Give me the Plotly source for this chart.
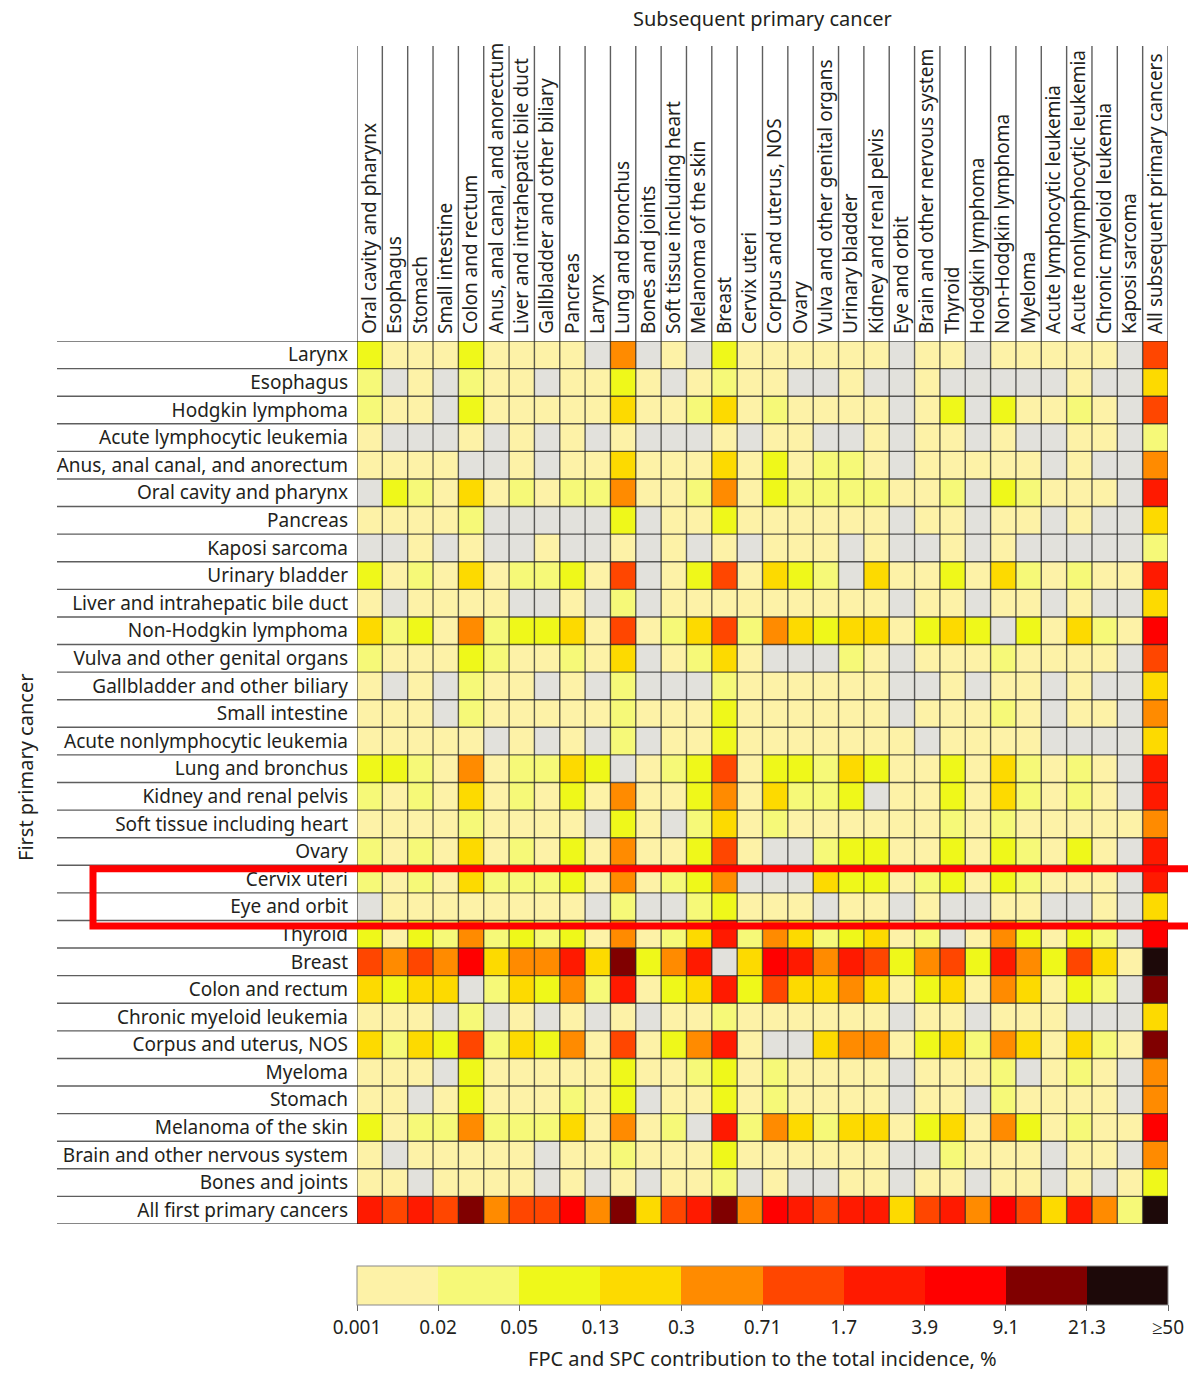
import numpy as np
import plotly.graph_objects as go

# Subsequent primary cancer (columns) and first primary cancer (rows)
subsequent = [
    "Oral cavity and pharynx", "Esophagus", "Stomach", "Small intestine",
    "Colon and rectum", "Anus, anal canal, and anorectum",
    "Liver and intrahepatic bile duct", "Gallbladder and other biliary",
    "Pancreas", "Larynx", "Lung and bronchus", "Bones and joints",
    "Soft tissue including heart", "Melanoma of the skin", "Breast",
    "Cervix uteri", "Corpus and uterus, NOS", "Ovary",
    "Vulva and other genital organs", "Urinary bladder",
    "Kidney and renal pelvis", "Eye and orbit",
    "Brain and other nervous system", "Thyroid", "Hodgkin lymphoma",
    "Non-Hodgkin lymphoma", "Myeloma", "Acute lymphocytic leukemia",
    "Acute nonlymphocytic leukemia", "Chronic myeloid leukemia",
    "Kaposi sarcoma", "All subsequent primary cancers",
]

first_primary = [
    "Larynx", "Esophagus", "Hodgkin lymphoma", "Acute lymphocytic leukemia",
    "Anus, anal canal, and anorectum", "Oral cavity and pharynx", "Pancreas",
    "Kaposi sarcoma", "Urinary bladder", "Liver and intrahepatic bile duct",
    "Non-Hodgkin lymphoma", "Vulva and other genital organs",
    "Gallbladder and other biliary", "Small intestine",
    "Acute nonlymphocytic leukemia", "Lung and bronchus",
    "Kidney and renal pelvis", "Soft tissue including heart", "Ovary",
    "Cervix uteri", "Eye and orbit", "Thyroid", "Breast", "Colon and rectum",
    "Chronic myeloid leukemia", "Corpus and uterus, NOS", "Myeloma",
    "Stomach", "Melanoma of the skin", "Brain and other nervous system",
    "Bones and joints", "All first primary cancers",
]

# Contribution classes, % (edges of the 10 colour classes)
bin_edges = [0.001, 0.02, 0.05, 0.13, 0.3, 0.71, 1.7, 3.9, 9.1, 21.3, 50]
bin_labels = ["0.001", "0.02", "0.05", "0.13", "0.3", "0.71", "1.7", "3.9",
              "9.1", "21.3", "\u226550"]
bin_colors = ["#fdf2a7", "#f6f978", "#eff81a", "#fdda00", "#ff8b00",
              "#ff4600", "#ff1a00", "#ff0000", "#800000", "#1d0909"]
no_data_color = "#e2e1dc"

# Class of each FPC/SPC pair (digit = class index, "." = no cases)
contribution_bins = [
    "200020000.4.0.20 00000.00.00000.5",
    "1.0.100.0020.010 0..0..0.....0..3",
    "100.200000300130 10000.02.20010.5",
    "0...0.0.0.0...0. 00..0.00.0..00.1",
    "0000..0.00300030 20110.00000.0..4",
    ".210301011400140 21111001.21000.6",
    "00001.....2.0020 00000.00.00.0..3",
    "..0.0..0..0.0.0. 000.0..0.0.....1",
    "20103011205.0250 321.300203101006",
    "0.0000..0.1.0000 00000.00.00.0..3",
    "3120412230501351 432330232.203107",
    "10002100103.0130 ...10.00010000.5",
    "0.0.100.0.1...10 00000..0.00.0..3",
    "000.100000100020 00000.00010.00.4",
    "00000.0.0.1.0020 000000.0000....3",
    "2210401132.01250 22132002031010.6",
    "1010301020400240 3112.002031010.6",
    "000010000.20.130 1000000101000004",
    "1010301020400250 ..122002021020.6",
    "101031112040124. ..322012021000.6",
    ".00000000.1..120 00.00.0..00..0.3",
    "2021412120401361 4312301.042021.7",
    "54547344638246.3 7646524526425309",
    "3233.13241602362 53343023043021.8",
    "000.1.0.0.0.0010 00000.00.000...3",
    "3132513240502460 ..34402314303108",
    "000.200000200120 10000.0001.010.4",
    "00.02000102.0020 10000.00.10000.4",
    "2011411130401.61 4313302304201007",
    "0.00000.00100020 00000..1000.00.4",
    "00.0000.0.0.001. 0..00.00.00.0.02",
    "6565845574835684 7656635647536419",
]

FONT = "Noto Sans"
TEXT = "#231f20"

edges = np.array(bin_edges)
n_rows, n_cols = len(first_primary), len(subsequent)
cls = np.full((n_rows, n_cols), np.nan)
for i, row in enumerate(contribution_bins):
    for j, ch in enumerate(row.replace(" ", "")):
        if ch != ".":
            cls[i, j] = int(ch)

# Estimated contribution: geometric centre of the class, placed on the
# class-equal colour axis (0..10) used by the colour bar
pct = np.full_like(cls, np.nan)
mask = ~np.isnan(cls)
k = cls[mask].astype(int)
pct[mask] = np.sqrt(edges[k] * edges[k + 1])
zpos = np.full_like(cls, np.nan)
zpos[mask] = np.interp(np.log10(pct[mask]), np.log10(edges), np.arange(len(edges)))

colorscale = []
nb = len(bin_colors)
for b, c in enumerate(bin_colors):
    colorscale.append([b / nb, c])
    colorscale.append([(b + 1) / nb, c])

hover = [[f"{first_primary[i]} \u2192 {subsequent[j]}" for j in range(n_cols)]
         for i in range(n_rows)]

fig = go.Figure()
fig.add_trace(go.Heatmap(
    z=zpos, x=list(range(n_cols)), y=list(range(n_rows)),
    zmin=0, zmax=nb, colorscale=colorscale,
    text=hover, hoverinfo="text",
    colorbar=dict(
        orientation="h", lenmode="pixels", len=811, thickness=39,
        x=0.5, xanchor="center", y=-0.0476, yanchor="top",
        xpad=0, ypad=0, outlinecolor="#8a8a8a", outlinewidth=1,
        tickmode="array", tickvals=list(range(len(bin_labels))),
        ticktext=bin_labels, ticks="outside", ticklen=6, tickcolor="#666",
        tickfont=dict(family=FONT, size=19, color=TEXT),
    ),
))

W, H = 1188, 1374
L, R, T, B = 357, 20, 341, 150
pw, ph = W - L - R, H - T - B

line_style = dict(color="rgba(40,40,40,0.75)", width=1.4)
shapes = []
# row separators, running through the label area
for i in range(n_rows + 1):
    shapes.append(dict(type="line", xref="paper", yref="y",
                       x0=(57 - L) / pw, x1=1, y0=i - 0.5, y1=i - 0.5,
                       line=line_style, layer="above"))
# column separators, running up through the header area
for j in range(n_cols + 1):
    shapes.append(dict(type="line", xref="x", yref="paper",
                       x0=j - 0.5, x1=j - 0.5, y0=0, y1=(T - 46) / ph + 1,
                       line=line_style, layer="above"))

# highlight box around two first primary cancers
r0 = first_primary.index("Cervix uteri")
r1 = first_primary.index("Eye and orbit")
shapes.append(dict(type="rect", xref="paper", yref="y",
                   x0=(93 - L) / pw, x1=1.2, y0=r0 - 0.37, y1=r1 + 0.7,
                   line=dict(color="#ff0000", width=7), layer="above"))

fig.update_layout(
    width=W, height=H,
    margin=dict(l=L, r=R, t=T, b=B, pad=0),
    paper_bgcolor="white", plot_bgcolor=no_data_color,
    font=dict(family=FONT, size=19, color=TEXT),
    shapes=shapes,
    xaxis=dict(
        side="top", range=[-0.5, n_cols - 0.5], tickmode="array",
        tickvals=list(range(n_cols)), ticktext=subsequent, tickangle=-90,
        showgrid=False, zeroline=False, ticks="", ticklabelstandoff=6,
        tickfont=dict(family=FONT, size=19, color=TEXT), fixedrange=True,
    ),
    yaxis=dict(
        range=[n_rows - 0.5, -0.5], tickmode="array",
        tickvals=list(range(n_rows)), ticktext=first_primary,
        showgrid=False, zeroline=False, ticks="", ticklabelstandoff=8,
        tickfont=dict(family=FONT, size=19, color=TEXT), fixedrange=True,
    ),
    annotations=[
        dict(text="Subsequent primary cancer", xref="paper", yref="paper",
             x=0.5, y=1 + (T - 18) / ph, xanchor="center", yanchor="middle",
             showarrow=False, font=dict(family=FONT, size=20, color=TEXT)),
        dict(text="First primary cancer", xref="paper", yref="paper",
             x=(25 - L) / pw, y=1 - (768 - T) / ph, xanchor="center",
             yanchor="middle", textangle=-90, showarrow=False,
             font=dict(family=FONT, size=20, color=TEXT)),
        dict(text="FPC and SPC contribution to the total incidence, %",
             xref="paper", yref="paper", x=0.5, y=-(1358 - T - ph) / ph,
             xanchor="center", yanchor="middle", showarrow=False,
             font=dict(family=FONT, size=20, color=TEXT)),
    ],
)

fig.write_html("out.html")
